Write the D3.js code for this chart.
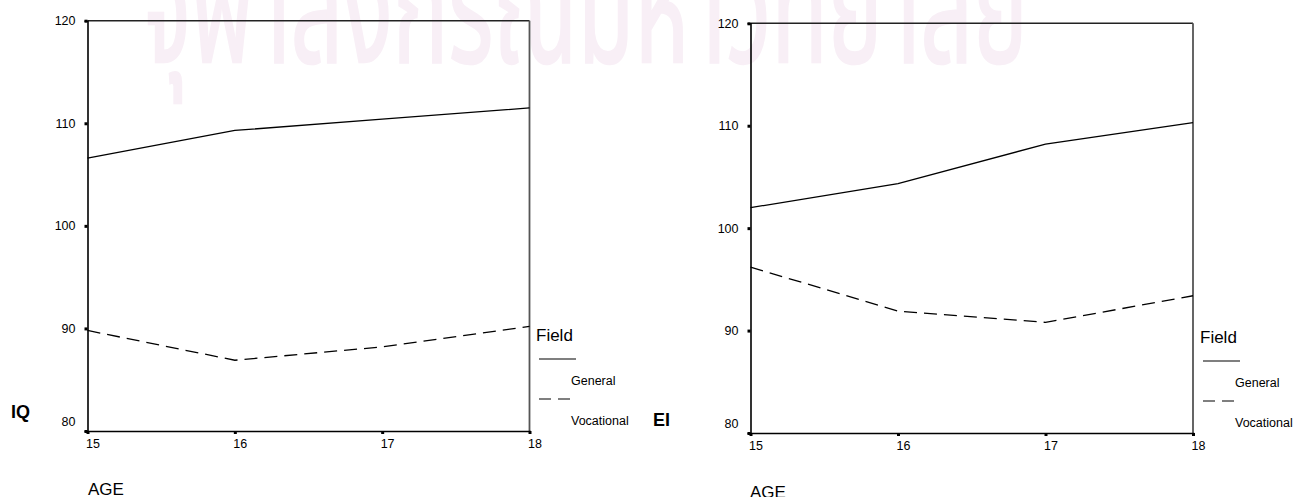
<!DOCTYPE html>
<html>
<head>
<meta charset="utf-8">
<script src="https://cdn.jsdelivr.net/npm/d3@7"></script>
<style>
  html, body { margin: 0; padding: 0; background: #fff; }
  svg { display: block; }
  text { font-family: Arial, "Liberation Sans", sans-serif; fill: #000; }
</style>
</head>
<body>
<svg id="chart" width="1298" height="497"></svg>
<script>
// Mean scores by age and field of study
const ages = [15, 16, 17, 18];
const seriesNames = ["General", "Vocational"];
const iqGeneral = [106.6, 109.3, 110.4, 111.5];
const iqVocational = [89.8, 86.9, 88.2, 90.2];
const eiGeneral = [102.0, 104.35, 108.2, 110.3];
const eiVocational = [96.2, 91.9, 90.8, 93.4];
const yTicks = [80, 90, 100, 110, 120];
const legendTitle = "Field";
const xTitle = "AGE";
const watermark = "จุฬาลงกรณ์มหาวิทยาลัย";

const svg = d3.select("#chart");

// faint background watermark
svg.append("text")
  .attr("x", 142).attr("y", 62)
  .attr("textLength", 886)
  .attr("lengthAdjust", "spacingAndGlyphs")
  .style("font-family", "'Noto Sans Thai', 'Noto Sans', 'DejaVu Sans', sans-serif")
  .style("font-size", "155px")
  .style("fill", "#f8eff6")
  .style("stroke", "#f8eff6")
  .style("stroke-width", 2.5)
  .text(watermark);

const dashPattern = "13,7";

const panels = [
  { title: "IQ", general: iqGeneral, vocational: iqVocational,
    x0: 87.5, x1: 529.5, y0: 431, y1: 20.7,
    titleX: 11, titleY: 418, ageX: 88, ageY: 495,
    legX: 536, legY: 341 },
  { title: "EI", general: eiGeneral, vocational: eiVocational,
    x0: 750.5, x1: 1193, y0: 433, y1: 23.3,
    titleX: 653, titleY: 426, ageX: 750, ageY: 498,
    legX: 1200, legY: 343 }
];

panels.forEach(p => {
  const g = svg.append("g");
  const x = d3.scaleLinear().domain([15, 18]).range([p.x0, p.x1]);
  const y = d3.scaleLinear().domain([80, 120]).range([p.y0, p.y1]);

  // frame: top and right edges
  g.append("line")
    .attr("x1", p.x0).attr("x2", p.x1).attr("y1", p.y1).attr("y2", p.y1)
    .attr("stroke", "#222").attr("stroke-width", 1.4);
  g.append("line")
    .attr("x1", p.x1).attr("x2", p.x1).attr("y1", p.y1).attr("y2", p.y0)
    .attr("stroke", "#555").attr("stroke-width", 1.8);

  // y axis
  const yAxis = g.append("g")
    .attr("transform", `translate(${p.x0},0)`)
    .call(d3.axisLeft(y).tickValues(yTicks).tickSize(3).tickPadding(9)
      .tickFormat(d3.format("d")));
  yAxis.select(".domain").attr("stroke", "#000").attr("stroke-width", 1.6);
  yAxis.selectAll(".tick line").attr("stroke", "#000").attr("stroke-width", 3);
  yAxis.selectAll(".tick text")
    .style("font-size", "12.5px")
    .attr("font-family", null)
    .attr("dy", d => d === 80 ? "-0.45em" : "0.32em");

  // x axis
  const xAxis = g.append("g")
    .attr("transform", `translate(0,${p.y0})`)
    .call(d3.axisBottom(x).tickValues(ages).tickSize(3).tickPadding(5)
      .tickFormat(d3.format("d")));
  xAxis.select(".domain").attr("stroke", "#000").attr("stroke-width", 1.6);
  xAxis.selectAll(".tick line").attr("stroke", "#000").attr("stroke-width", 3);
  xAxis.selectAll(".tick text")
    .style("font-size", "12.5px")
    .attr("font-family", null)
    .attr("text-anchor", "start")
    .attr("dx", "-2");

  // series lines
  const line = d3.line().x((d, i) => x(ages[i])).y(d => y(d));
  g.append("path").datum(p.general)
    .attr("d", line).attr("fill", "none")
    .attr("stroke", "#000").attr("stroke-width", 1.3);
  g.append("path").datum(p.vocational)
    .attr("d", line).attr("fill", "none")
    .attr("stroke", "#000").attr("stroke-width", 1.3)
    .attr("stroke-dasharray", dashPattern);

  // axis titles
  g.append("text").attr("x", p.titleX).attr("y", p.titleY)
    .style("font-size", "18px").style("font-weight", "bold").text(p.title);
  g.append("text").attr("x", p.ageX).attr("y", p.ageY)
    .style("font-size", "17px").text(xTitle);

  // legend
  const lg = g.append("g").attr("transform", `translate(${p.legX},${p.legY})`);
  lg.append("text").attr("x", 0).attr("y", 0)
    .style("font-size", "17px").text(legendTitle);
  seriesNames.forEach((name, i) => {
    const ly = 18 + i * 40;
    lg.append("line")
      .attr("x1", 3).attr("x2", i === 0 ? 40 : 36)
      .attr("y1", ly).attr("y2", ly)
      .attr("stroke", "#000").attr("stroke-width", 1.2)
      .attr("stroke-dasharray", i === 0 ? null : "12,7");
    lg.append("text").attr("x", 35).attr("y", ly + 26)
      .style("font-size", "12.5px").text(name);
  });
});
</script>
</body>
</html>
